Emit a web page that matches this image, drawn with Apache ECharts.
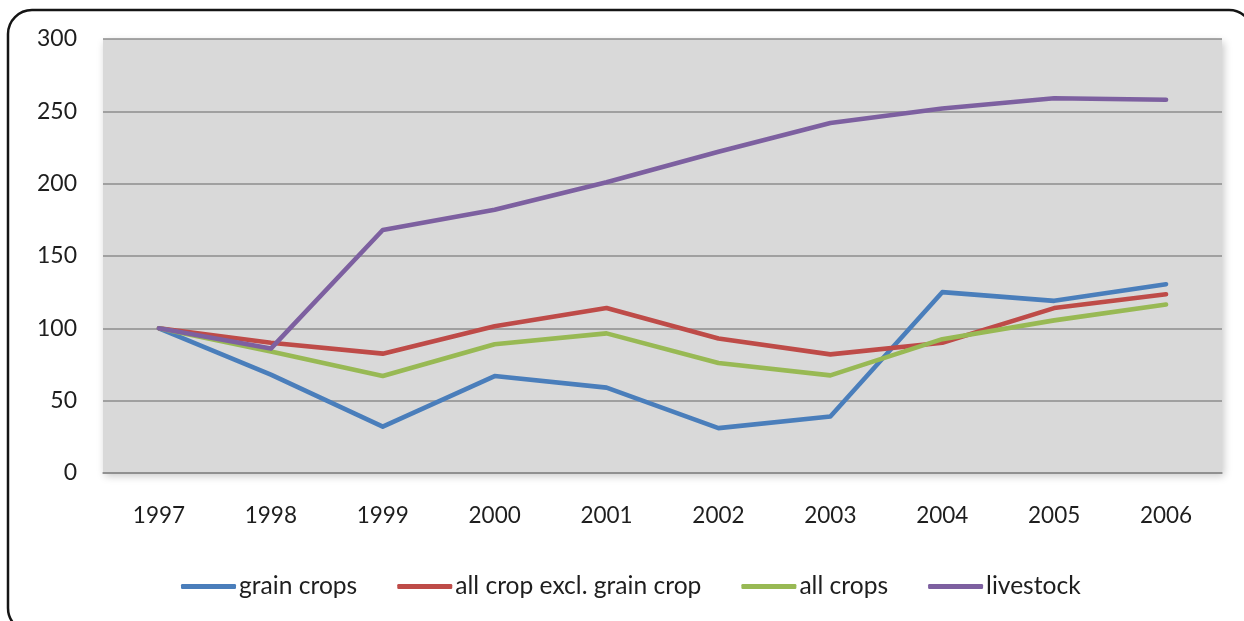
<!DOCTYPE html>
<html>
<head>
<meta charset="utf-8">
<script src="https://cdn.jsdelivr.net/npm/echarts@6/dist/echarts.min.js"></script>
<style>
  html, body { margin: 0; padding: 0; background: #fff; }
  #chart { width: 1244px; height: 621px; }
</style>
</head>
<body>
<div id="chart"></div>
<script>
// Index values (1997 = 100)
const years = ['1997', '1998', '1999', '2000', '2001', '2002', '2003', '2004', '2005', '2006'];
const grainCrops = [100, 68, 32, 67, 59, 31, 39, 125, 119, 130.5];
const cropExclGrain = [100, 90, 82.5, 101.5, 114, 93, 82, 90, 114, 123.5];
const allCrops = [100, 84, 67, 89, 96.5, 76, 67.5, 92.5, 105.5, 116.5];
const livestock = [100, 86, 168, 182, 201, 222, 242, 252, 259, 258];
const yTicks = { min: 0, max: 300, step: 50 };

const FONT = 'Lato, "Open Sans", sans-serif';
const TEXT = '#1e1e1e';

function lineSeries(name, data, color) {
  return {
    name: name,
    type: 'line',
    data: data,
    symbol: 'none',
    showSymbol: false,
    smooth: false,
    lineStyle: { width: 4.6, color: color, cap: 'round', join: 'round' },
    itemStyle: { color: color }
  };
}

const chart = echarts.init(document.getElementById('chart'), null, { renderer: 'canvas' });
chart.setOption({
  animation: false,
  backgroundColor: '#ffffff',
  graphic: [{
    type: 'rect',
    silent: true,
    z: 100,
    shape: { x: 8, y: 10, width: 1245, height: 622, r: 24 },
    style: { fill: 'none', stroke: '#151515', lineWidth: 2.5 }
  }],
  grid: {
    show: true,
    left: 103, right: 22, top: 39, bottom: 148,
    backgroundColor: '#d9d9d9',
    borderWidth: 0,
    shadowColor: 'rgba(0,0,0,0.22)',
    shadowBlur: 8,
    shadowOffsetX: 2,
    shadowOffsetY: 3
  },
  legend: {
    left: 176,
    top: 569,
    icon: 'roundRect',
    itemWidth: 55,
    itemHeight: 5,
    itemGap: 40,
    textStyle: { fontFamily: FONT, fontSize: 24.6, color: TEXT, padding: [0, 0, 0, -2] },
    data: ['grain crops', 'all crop excl. grain crop', 'all crops', 'livestock']
  },
  xAxis: {
    type: 'category',
    data: years,
    boundaryGap: true,
    axisLine: { show: true, lineStyle: { color: '#8c8c8c', width: 1.5 } },
    axisTick: { show: false },
    axisLabel: { fontFamily: FONT, fontSize: 22.5, color: TEXT, margin: 31 },
    splitLine: { show: false }
  },
  yAxis: {
    type: 'value',
    min: yTicks.min,
    max: yTicks.max,
    interval: yTicks.step,
    axisLine: { show: false },
    axisTick: { show: false },
    axisLabel: { fontFamily: FONT, fontSize: 23, color: TEXT, margin: 26 },
    splitLine: { lineStyle: { color: '#8c8c8c', width: 1.5 } }
  },
  series: [
    lineSeries('grain crops', grainCrops, '#4a7ebb'),
    lineSeries('all crop excl. grain crop', cropExclGrain, '#be4b48'),
    lineSeries('all crops', allCrops, '#98b954'),
    lineSeries('livestock', livestock, '#7d60a0')
  ]
});
</script>
</body>
</html>
